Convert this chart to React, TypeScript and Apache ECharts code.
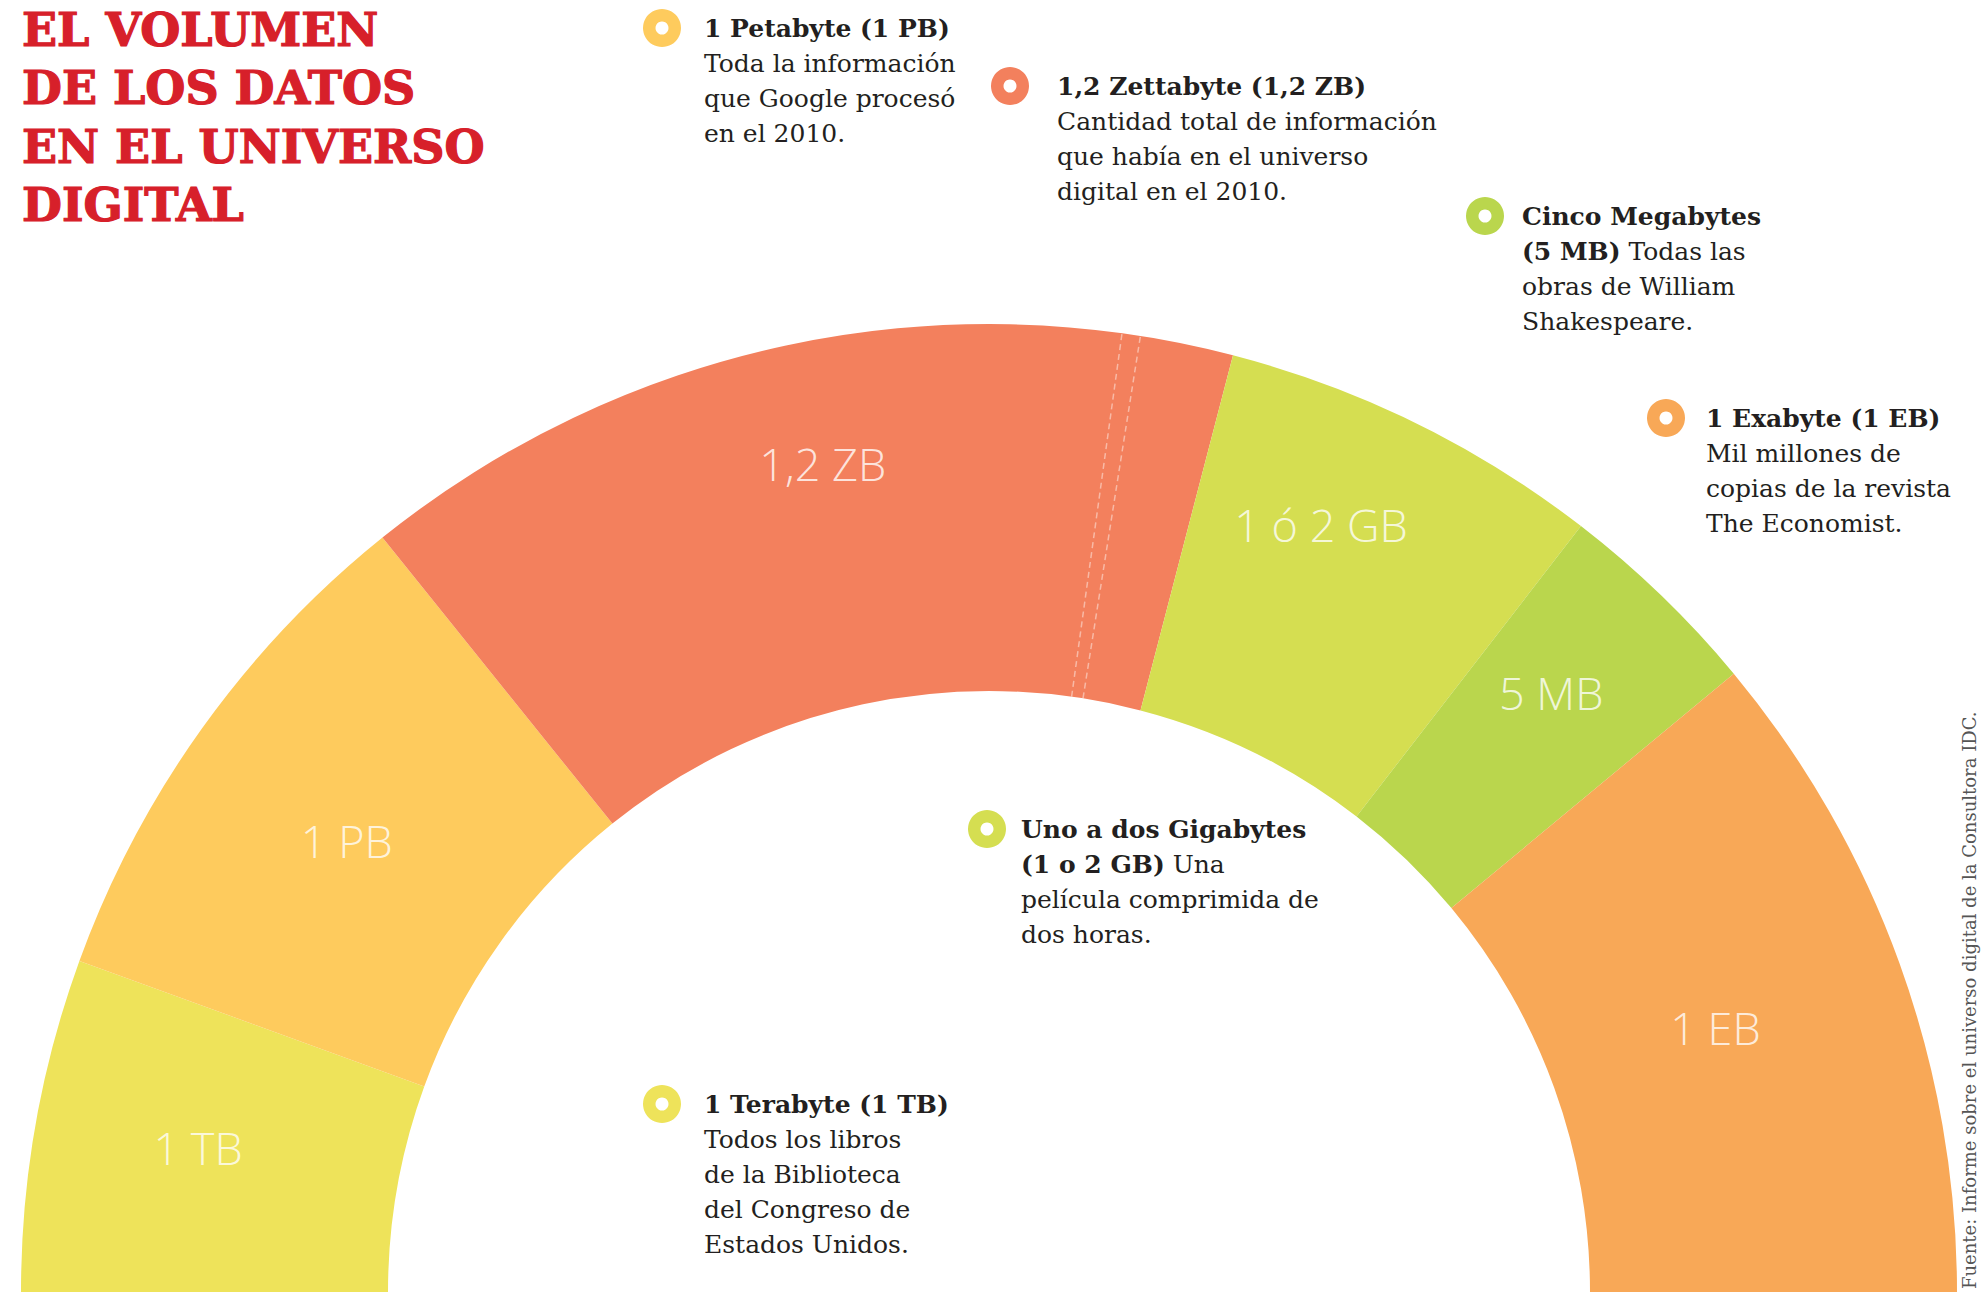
import React, { useEffect, useRef } from 'react';
import * as echarts from 'echarts';

// ---- data ----
const categories = ['1 TB', '1 PB', '1,2 ZB', '1 ó 2 GB', '5 MB', '1 EB'];
// arc span of each band, in degrees of the half ring (as drawn, not to scale)
const arcDegrees = [20.0, 31.2, 53.4, 23.1, 12.6, 39.7];
const bandColors = ['#EEE35A', '#FECB5D', '#F3805D', '#D5DE51', '#BAD64D', '#F8A857'];
// dashed "break" marks inside the ZB band, offsets in degrees from its start
const zbBreakOffsets = [46.7, 47.8];

const titleLines = ['EL VOLUMEN', 'DE LOS DATOS', 'EN EL UNIVERSO', 'DIGITAL'];
const sourceText = 'Fuente: Informe sobre el universo digital de la Consultora IDC.';

type Seg = [string, string];
const noteBand = [1, 2, 4, 5, 3, 0];
const noteLines: Seg[][][] = [
  [[['b', '1 Petabyte (1 PB)']], [['r', 'Toda la información']], [['r', 'que Google procesó']], [['r', 'en el 2010.']]],
  [[['b', '1,2 Zettabyte (1,2 ZB)']], [['r', 'Cantidad total de información']], [['r', 'que había en el universo']], [['r', 'digital en el 2010.']]],
  [[['b', 'Cinco Megabytes']], [['b', '(5 MB)'], ['r', ' Todas las']], [['r', 'obras de William']], [['r', 'Shakespeare.']]],
  [[['b', '1 Exabyte (1 EB)']], [['r', 'Mil millones de']], [['r', 'copias de la revista']], [['r', 'The Economist.']]],
  [[['b', 'Uno a dos Gigabytes']], [['b', '(1 o 2 GB)'], ['r', ' Una']], [['r', 'película comprimida de']], [['r', 'dos horas.']]],
  [[['b', '1 Terabyte (1 TB)']], [['r', 'Todos los libros']], [['r', 'de la Biblioteca']], [['r', 'del Congreso de']], [['r', 'Estados Unidos.']]],
];

// ---- layout ----
const CX = 989;
const CY = 1292;
const R_IN = 601;
const R_OUT = 968;
// band label placement: distance from centre (px) and angular nudge from band middle (deg)
const labelRadius = [804, 785, 845, 836, 822, 773];
const labelAngleShift = [0.35, -0.5, 0.75, -2.75, -0.85, -0.15];
const noteTextPos = [
  [704, 28],
  [1057, 86],
  [1522, 216],
  [1706, 418],
  [1021, 829],
  [704, 1104],
];
const bulletPos = [
  [662, 28],
  [1010, 86],
  [1485, 216],
  [1666, 418],
  [987, 829],
  [662, 1104],
];

export default function App() {
  const ref = useRef<HTMLDivElement>(null);

  useEffect(() => {
    if (!ref.current) return;
    const chart = echarts.init(ref.current, undefined, { renderer: 'svg' });

    const starts: number[] = [];
    arcDegrees.reduce((acc, v) => {
      starts.push(acc);
      return acc + v;
    }, 0);

    const zbStart = starts[2];
    const breakSeries = zbBreakOffsets.map((off) => ({
      type: 'line',
      coordinateSystem: 'polar',
      data: [
        [R_IN / R_OUT, zbStart + off],
        [1, zbStart + off],
      ],
      symbol: 'none',
      silent: true,
      z: 5,
      lineStyle: { color: 'rgba(255,255,255,0.45)', width: 1.5, type: [6, 4] },
    }));

    const labelSeries = {
      type: 'scatter',
      coordinateSystem: 'polar',
      symbolSize: 0,
      silent: true,
      z: 6,
      data: categories.map((c, i) => ({
        name: c,
        value: [labelRadius[i] / R_OUT, starts[i] + arcDegrees[i] / 2 + labelAngleShift[i]],
      })),
      label: {
        show: true,
        position: 'inside',
        formatter: '{b}',
        color: '#ffffff',
        fontSize: 45,
        fontFamily: 'Open Sans',
        fontWeight: 300,
      },
    };

    const graphics: any[] = [];
    graphics.push({
      type: 'text',
      x: 22,
      y: 1,
      style: {
        text: titleLines.join('\n'),
        fill: '#D7202A',
        stroke: '#D7202A',
        lineWidth: 1.2,
        fontFamily: 'DejaVu Serif',
        fontWeight: 'bold',
        fontSize: 46,
        lineHeight: 58.2,
        textAlign: 'left',
        textVerticalAlign: 'top',
      },
    });

    noteLines.forEach((lines, i) => {
      const [bx, by] = bulletPos[i];
      graphics.push({
        type: 'ring',
        shape: { cx: bx, cy: by, r: 19, r0: 6.5 },
        style: { fill: bandColors[noteBand[i]] },
      });
      const [tx, ty] = noteTextPos[i];
      const text = lines.map((line) => line.map(([s, t]) => `{${s}|${t}}`).join('')).join('\n');
      graphics.push({
        type: 'text',
        x: tx,
        y: ty - 17.5,
        style: {
          text,
          textAlign: 'left',
          textVerticalAlign: 'top',
          rich: {
            b: { fontFamily: 'DejaVu Serif', fontWeight: 'bold', fontSize: 25, lineHeight: 35, fill: '#231F20' },
            r: { fontFamily: 'DejaVu Serif', fontWeight: 'normal', fontSize: 25, lineHeight: 35, fill: '#231F20' },
          },
        },
      });
    });

    graphics.push({
      type: 'text',
      x: 1969,
      y: 1289,
      rotation: Math.PI / 2,
      style: {
        text: sourceText,
        fontFamily: 'DejaVu Serif',
        fontSize: 18,
        fill: '#555555',
        textAlign: 'left',
        textVerticalAlign: 'middle',
      },
    });

    chart.setOption({
      animation: false,
      backgroundColor: '#ffffff',
      polar: { center: [CX, CY], radius: R_OUT },
      angleAxis: { type: 'value', min: 0, max: 360, startAngle: 180, clockwise: true, show: false },
      radiusAxis: { type: 'value', min: 0, max: 1, show: false },
      series: [
        {
          type: 'pie',
          center: [CX, CY],
          radius: [R_IN, R_OUT],
          startAngle: 180,
          endAngle: 0,
          clockwise: true,
          silent: true,
          avoidLabelOverlap: false,
          emphasis: { disabled: true },
          itemStyle: { borderWidth: 0 },
          data: categories.map((c, i) => ({
            name: c,
            value: arcDegrees[i],
            itemStyle: { color: bandColors[i] },
          })),
          label: { show: false },
          labelLine: { show: false },
        },
        ...breakSeries,
        labelSeries,
      ],
      graphic: graphics,
    });

    return () => chart.dispose();
  }, []);

  return (
    <div
      ref={ref}
      style={{ position: 'fixed', left: 0, top: 0, width: 1982, height: 1292 }}
    />
  );
}
